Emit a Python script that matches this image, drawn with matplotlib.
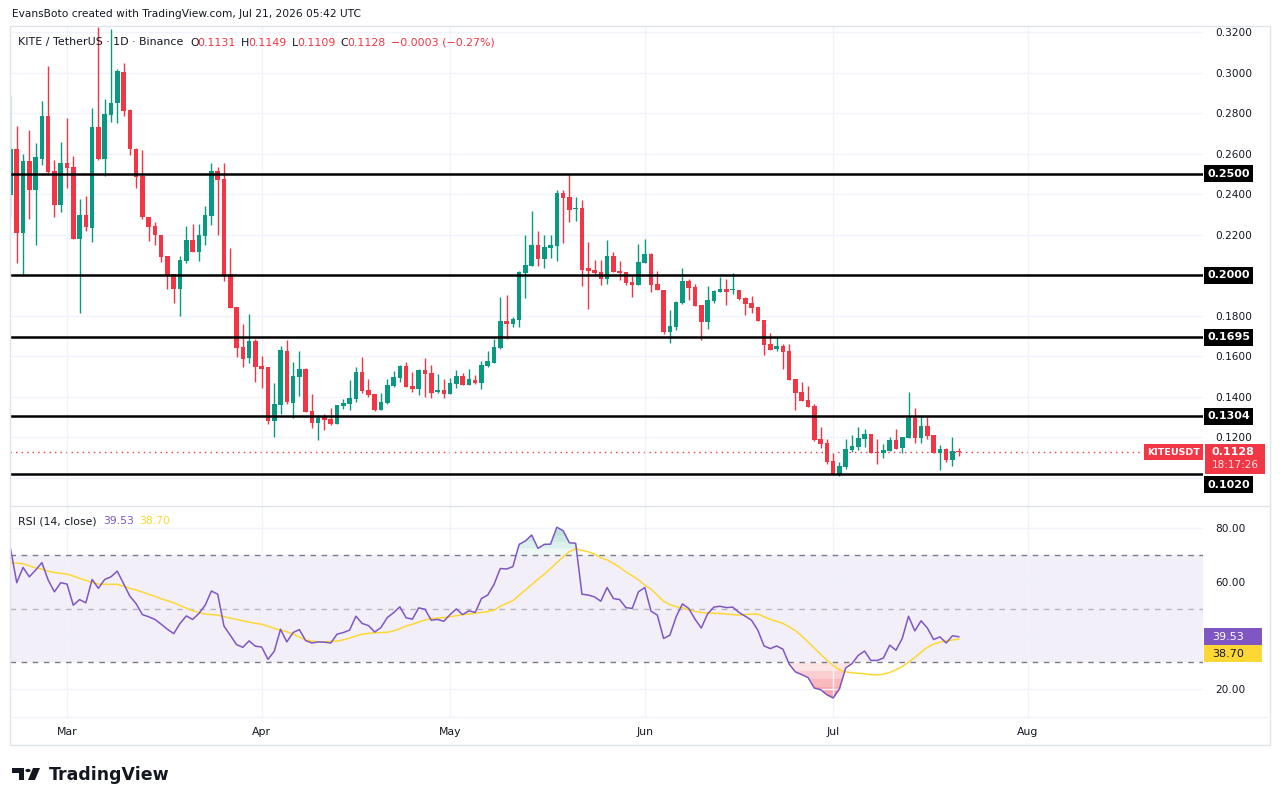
import numpy as np
import matplotlib
matplotlib.use("Agg")
import matplotlib.pyplot as plt
import matplotlib.dates as mdates
from matplotlib.patches import Rectangle, Polygon, Circle
from matplotlib.lines import Line2D

# daily candles, Feb 20 .. Jul 21 2026
dates = np.arange("2026-02-20", "2026-07-22", dtype="datetime64[D]")

opens = [
    # Feb 20-28
    0.2396, 0.2623, 0.2207, 0.2564, 0.2421, 0.2576, 0.2786, 0.2515, 0.2349,
    # Mar
    0.2554, 0.2535, 0.2181, 0.2298, 0.2235, 0.2732, 0.2576, 0.2791, 0.2849, 0.3003,
    0.2816, 0.2625, 0.2490, 0.2288, 0.2243, 0.2199, 0.2095, 0.2006, 0.1934, 0.2072,
    0.2174, 0.2115, 0.2196, 0.2294, 0.2515, 0.2475, 0.2006, 0.1843, 0.1646, 0.1593,
    0.1676,
    # Apr
    0.1552, 0.1547, 0.1282, 0.1360, 0.1626, 0.1371, 0.1500, 0.1538, 0.1330, 0.1273,
    0.1302, 0.1292, 0.1268, 0.1357, 0.1366, 0.1391, 0.1523, 0.1434, 0.1414, 0.1337,
    0.1371, 0.1455, 0.1495, 0.1552, 0.1454, 0.1440, 0.1533, 0.1518, 0.1426, 0.1434,
    # May
    0.1416, 0.1465, 0.1503, 0.1460, 0.1483, 0.1470, 0.1554, 0.1569, 0.1643, 0.1774,
    0.1761, 0.1781, 0.2013, 0.2048, 0.2150, 0.2082, 0.2136, 0.2146, 0.2406, 0.2387,
    0.2329, 0.2332, 0.2036, 0.2026, 0.2016, 0.1983, 0.2095, 0.2021, 0.2016, 0.1967,
    0.1954,
    # Jun
    0.2062, 0.2105, 0.1957, 0.1927, 0.1722, 0.1746, 0.1863, 0.1972, 0.1942, 0.1853,
    0.1771, 0.1875, 0.1919, 0.1932, 0.1926, 0.1927, 0.1890, 0.1863, 0.1844, 0.1779,
    0.1663, 0.1636, 0.1651, 0.1626, 0.1488, 0.1424, 0.1384, 0.1355, 0.1192, 0.1172,
    # Jul
    0.1083, 0.1017, 0.1054, 0.1138, 0.1153, 0.1192, 0.1217, 0.1128, 0.1123, 0.1134,
    0.1187, 0.1148, 0.1197, 0.1296, 0.1197, 0.1256, 0.1212, 0.1123, 0.1143, 0.1088,
    0.1131,
]
highs = [
    0.2890, 0.2737, 0.2599, 0.2717, 0.2653, 0.2860, 0.3033, 0.2569, 0.2658,
    0.2776, 0.2589, 0.2377, 0.2391, 0.2826, 0.3226, 0.2870, 0.3216, 0.3018, 0.3048,
    0.2820, 0.2627, 0.2619, 0.2290, 0.2265, 0.2200, 0.2097, 0.2008, 0.2095, 0.2243,
    0.2253, 0.2253, 0.2342, 0.2556, 0.2535, 0.2556, 0.2135, 0.1845, 0.1760, 0.1809,
    0.1685,
    0.1603, 0.1549, 0.1468, 0.1651, 0.1681, 0.1572, 0.1626, 0.1543, 0.1414, 0.1310,
    0.1315, 0.1345, 0.1362, 0.1389, 0.1483, 0.1547, 0.1597, 0.1488, 0.1416, 0.1419,
    0.1488, 0.1528, 0.1557, 0.1572, 0.1523, 0.1538, 0.1592, 0.1557, 0.1513, 0.1488,
    0.1493, 0.1533, 0.1518, 0.1538, 0.1508, 0.1577, 0.1626, 0.1685, 0.1894, 0.1903,
    0.1796, 0.2020, 0.2199, 0.2317, 0.2219, 0.2199, 0.2199, 0.2421, 0.2421, 0.2500,
    0.2387, 0.2372, 0.2166, 0.2076, 0.2076, 0.2174, 0.2115, 0.2071, 0.2018, 0.1997,
    0.2155,
    0.2179, 0.2110, 0.2021, 0.1929, 0.1829, 0.1873, 0.2036, 0.1982, 0.1957, 0.1855,
    0.1947, 0.1927, 0.1992, 0.1982, 0.2011, 0.1929, 0.1894, 0.1900, 0.1846, 0.1781,
    0.1717, 0.1697, 0.1661, 0.1661, 0.1490, 0.1473, 0.1454, 0.1365, 0.1251, 0.1192,
    0.1123, 0.1078, 0.1192, 0.1212, 0.1251, 0.1241, 0.1219, 0.1192, 0.1167, 0.1202,
    0.1241, 0.1204, 0.1424, 0.1345, 0.1301, 0.1301, 0.1214, 0.1162, 0.1148, 0.1202,
    0.1149,
]
lows = [
    0.2289, 0.2062, 0.2005, 0.2278, 0.2151, 0.2544, 0.2507, 0.2289, 0.2312,
    0.2433, 0.2178, 0.1816, 0.2220, 0.2166, 0.2569, 0.2492, 0.2757, 0.2753, 0.2786,
    0.2594, 0.2433, 0.2280, 0.2171, 0.2151, 0.2067, 0.1934, 0.1865, 0.1801, 0.2062,
    0.2113, 0.2072, 0.2150, 0.2250, 0.2201, 0.1974, 0.1838, 0.1598, 0.1549, 0.1569,
    0.1475,
    0.1445, 0.1268, 0.1203, 0.1317, 0.1365, 0.1297, 0.1406, 0.1325, 0.1248, 0.1189,
    0.1238, 0.1263, 0.1266, 0.1342, 0.1337, 0.1376, 0.1421, 0.1401, 0.1332, 0.1335,
    0.1366, 0.1450, 0.1475, 0.1448, 0.1426, 0.1411, 0.1401, 0.1396, 0.1421, 0.1396,
    0.1414, 0.1445, 0.1458, 0.1458, 0.1465, 0.1440, 0.1549, 0.1567, 0.1635, 0.1686,
    0.1746, 0.1746, 0.1890, 0.2046, 0.2048, 0.2038, 0.2087, 0.2072, 0.2161, 0.2265,
    0.2270, 0.1949, 0.1835, 0.1998, 0.1954, 0.1959, 0.2016, 0.1978, 0.1954, 0.1894,
    0.1952,
    0.2060, 0.1919, 0.1927, 0.1712, 0.1668, 0.1732, 0.1860, 0.1880, 0.1848, 0.1682,
    0.1737, 0.1865, 0.1917, 0.1855, 0.1909, 0.1880, 0.1806, 0.1816, 0.1772, 0.1608,
    0.1631, 0.1628, 0.1539, 0.1483, 0.1337, 0.1379, 0.1350, 0.1184, 0.1149, 0.1070,
    0.1012, 0.1010, 0.1044, 0.1128, 0.1138, 0.1153, 0.1121, 0.1069, 0.1098, 0.1132,
    0.1141, 0.1123, 0.1195, 0.1172, 0.1172, 0.1192, 0.1121, 0.1039, 0.1078, 0.1059,
    0.1109,
]
closes = [
    0.2623, 0.2207, 0.2564, 0.2421, 0.2584, 0.2786, 0.2512, 0.2349, 0.2554,
    0.2531, 0.2181, 0.2298, 0.2240, 0.2732, 0.2576, 0.2796, 0.2850, 0.3008, 0.2813,
    0.2625, 0.2487, 0.2288, 0.2238, 0.2199, 0.2092, 0.2001, 0.1934, 0.2076, 0.2174,
    0.2115, 0.2199, 0.2298, 0.2515, 0.2470, 0.2001, 0.1840, 0.1643, 0.1589, 0.1676,
    0.1549,
    0.1539, 0.1282, 0.1365, 0.1631, 0.1375, 0.1503, 0.1538, 0.1327, 0.1273, 0.1297,
    0.1287, 0.1268, 0.1360, 0.1370, 0.1394, 0.1523, 0.1431, 0.1411, 0.1337, 0.1375,
    0.1459, 0.1498, 0.1552, 0.1450, 0.1440, 0.1533, 0.1514, 0.1421, 0.1434, 0.1416,
    0.1468, 0.1503, 0.1460, 0.1488, 0.1470, 0.1557, 0.1577, 0.1646, 0.1774, 0.1761,
    0.1784, 0.2016, 0.2051, 0.2150, 0.2082, 0.2140, 0.2150, 0.2406, 0.2383, 0.2322,
    0.2332, 0.2028, 0.2023, 0.2013, 0.1983, 0.2095, 0.2018, 0.2013, 0.1964, 0.1954,
    0.2066,
    0.2105, 0.1954, 0.1929, 0.1722, 0.1750, 0.1868, 0.1972, 0.1939, 0.1850, 0.1771,
    0.1878, 0.1923, 0.1932, 0.1919, 0.1929, 0.1885, 0.1860, 0.1840, 0.1774, 0.1658,
    0.1633, 0.1653, 0.1623, 0.1485, 0.1421, 0.1381, 0.1352, 0.1189, 0.1169, 0.1080,
    0.1021, 0.1059, 0.1143, 0.1157, 0.1197, 0.1217, 0.1123, 0.1123, 0.1138, 0.1187,
    0.1143, 0.1202, 0.1296, 0.1197, 0.1256, 0.1207, 0.1123, 0.1143, 0.1088, 0.1131,
    0.1128,
]

rsi = [
    72.5, 59.7, 65.4, 61.9, 64.4, 67.2, 60.7, 56.3, 59.7,
    59.2, 51.3, 53.4, 52.2, 60.9, 57.6, 60.9, 61.9, 64.0, 59.4, 54.7, 51.9, 47.8,
    47.0, 46.0, 44.2, 42.3, 40.7, 44.5, 47.3, 46.0, 48.2, 51.3, 56.6, 55.4, 43.5,
    40.1, 36.6, 35.6, 38.0, 36.0,
    35.7, 31.1, 34.1, 42.3, 37.6, 41.1, 42.2, 38.1, 37.2, 37.6, 37.5, 37.2, 40.5,
    41.1, 42.0, 47.2, 44.5, 43.7, 41.3, 43.0, 46.7, 48.5, 50.7, 46.6, 46.1, 50.3,
    49.8, 45.7, 46.0, 45.3,
    47.8, 49.9, 47.8, 49.2, 48.6, 53.8, 55.1, 59.1, 65.0, 64.8, 65.7, 74.0, 75.3,
    77.5, 72.5, 74.0, 74.1, 80.4, 79.1, 74.6, 74.4, 55.4, 55.1, 54.4, 52.8, 57.9,
    53.8, 53.4, 50.4, 50.1, 56.3,
    57.9, 49.1, 47.6, 38.9, 40.1, 47.0, 51.8, 50.1, 46.1, 42.8, 48.0, 50.6, 50.9,
    50.4, 50.6, 48.6, 47.2, 45.7, 42.0, 36.1, 35.1, 36.1, 34.9, 29.3, 26.4, 25.4,
    24.3, 20.4, 19.8, 17.9,
    16.7, 20.1, 27.9, 29.5, 32.6, 34.2, 30.7, 30.7, 31.6, 36.4, 34.5, 38.9, 47.2,
    41.7, 45.5, 42.8, 38.5, 39.5, 37.2, 39.9, 39.53,
]
rsi_ma = [
    67.2, 67.0, 66.8, 66.0, 65.2, 64.8, 64.0, 63.5, 63.2,
    62.9, 62.2, 61.3, 60.6, 59.8, 59.2, 59.1, 59.1, 59.1, 58.4, 57.6, 57.0, 56.2,
    55.4, 54.6, 53.7, 53.0, 52.2, 51.2, 50.2, 49.3, 48.6, 48.0, 47.8, 47.6, 47.0,
    46.5, 46.0, 45.5, 45.0, 44.5,
    44.2, 43.5, 42.6, 42.0, 41.4, 40.5, 39.4, 38.3, 37.9, 37.6, 37.6, 37.8, 37.9,
    38.4, 39.0, 39.8, 40.5, 40.8, 41.0, 41.1, 41.2, 41.7, 42.5, 43.5, 44.2, 45.0,
    45.8, 46.3, 46.5, 46.7,
    47.0, 47.4, 47.8, 48.0, 48.3, 48.6, 48.9, 49.5, 50.9, 52.0, 53.0, 55.0, 57.0,
    59.0, 61.0, 62.8, 65.0, 67.2, 69.3, 71.3, 72.3, 71.8, 71.2, 70.4, 69.0, 68.2,
    66.9, 65.5, 63.7, 62.3, 60.8,
    58.8, 57.3, 55.0, 52.8, 51.5, 50.8, 50.3, 49.6, 49.0, 48.6, 48.4, 48.3, 48.2,
    48.0, 47.8, 47.6, 47.8, 48.0, 48.0, 47.0, 46.0, 45.3, 44.5, 43.2, 41.8, 39.8,
    37.6, 35.3, 33.0, 30.8,
    28.8, 27.2, 26.4, 26.1, 25.9, 25.7, 25.4, 25.3, 25.6, 26.2, 27.2, 28.4, 30.0,
    31.8, 33.8, 35.6, 36.8, 37.5, 38.0, 38.3, 38.70,
]

levels = [0.2500, 0.2000, 0.1695, 0.1304, 0.1020]
level_labels = ["0.2500", "0.2000", "0.1695", "0.1304", "0.1020"]
price_grid = [0.10, 0.12, 0.14, 0.16, 0.18, 0.20, 0.22, 0.24, 0.26, 0.28, 0.30, 0.32]
price_tick_labels = ["", "0.1200", "0.1400", "0.1600", "0.1800", "", "0.2200",
                     "0.2400", "0.2600", "0.2800", "0.3000", "0.3200"]
rsi_grid = [20, 40, 60, 80]
rsi_tick_labels = ["20.00", "", "60.00", "80.00"]
month_starts = np.array(["2026-03-01", "2026-04-01", "2026-05-01", "2026-06-01",
                         "2026-07-01", "2026-08-01"], dtype="datetime64[D]")
month_labels = ["Mar", "Apr", "May", "Jun", "Jul", "Aug"]
last_price = 0.1128

UP, DOWN = "#089981", "#f23645"
TXT = "#131722"
GRID = "#f0f3fa"
PURPLE, YELLOW = "#7e57c2", "#fdd835"

W, H = 1280, 805
fig = plt.figure(figsize=(W / 100, H / 100), dpi=100)
fig.patch.set_facecolor("white")


def fbox(x0, y0, x1, y1):
    return [x0 / W, 1 - y1 / H, (x1 - x0) / W, (y1 - y0) / H]


def px_rect(x0, y0, x1, y1, **kw):
    fig.add_artist(Rectangle((x0 / W, 1 - y1 / H), (x1 - x0) / W, (y1 - y0) / H,
                             transform=fig.transFigure, **kw))


def px_text(x, y, s, **kw):
    kw.setdefault("va", "center")
    fig.text(x / W, 1 - y / H, s, **kw)


def px_hline(x0, x1, y, color, lw=1):
    fig.add_artist(Line2D([x0 / W, x1 / W], [1 - y / H, 1 - y / H],
                          transform=fig.transFigure, color=color, lw=lw))


ax = fig.add_axes(fbox(10, 26, 1203, 506))
ax2 = fig.add_axes(fbox(10, 507, 1203, 717), sharex=ax)

x = mdates.date2num(dates)
o, h, l, c = map(np.array, (opens, highs, lows, closes))
colors = np.where(c >= o, UP, DOWN)

mar1 = mdates.date2num(np.datetime64("2026-03-01"))
px_per_day = 6.28
ax.set_xlim(mar1 - 57 / px_per_day, mar1 + (1203 - 67) / px_per_day)
ax.set_ylim(0.25 - (506 - 174) / 2026, 0.25 + (174 - 26) / 2026)
ax2.set_ylim(80 - (717 - 528.3) / 2.68, 80 + (528.3 - 507) / 2.68)

# price panel
ax.axhline(last_price, color=DOWN, lw=1, ls=(0, (1, 3)), zorder=1)
ax.vlines(x, l, h, colors=colors, lw=1, zorder=2)
ax.bar(x, np.maximum(np.abs(c - o), 0.0005), bottom=np.minimum(o, c),
       width=0.72, color=colors, lw=0, zorder=2)
for v in levels:
    ax.axhline(v, color="black", lw=1.8, zorder=3)

ax.set_yticks(price_grid)
ax.set_yticklabels(price_tick_labels)
ax.yaxis.tick_right()
ax.set_xticks(mdates.date2num(month_starts))
ax.grid(True, color=GRID, lw=1)
ax.tick_params(axis="both", length=0, labelsize=7.6, colors=TXT, pad=9)
ax.tick_params(axis="x", labelbottom=False)

# RSI panel
rsi = np.array(rsi)
ax2.axhspan(30, 70, color=PURPLE, alpha=0.09, lw=0)
for lvl in (70, 72.5, 75, 77.5):
    ax2.fill_between(x, rsi, lvl, where=rsi > lvl, interpolate=True,
                     color=UP, alpha=0.07, lw=0)
for lvl in (30, 27, 24, 21, 18):
    ax2.fill_between(x, rsi, lvl, where=rsi < lvl, interpolate=True,
                     color=DOWN, alpha=0.13, lw=0)
for v, a in ((70, 1.0), (50, 0.5), (30, 1.0)):
    ax2.axhline(v, color="#787b86", lw=1, ls=(0, (4, 4)), alpha=a)
ax2.plot(x, rsi_ma, color=YELLOW, lw=1.1)
ax2.plot(x, rsi, color=PURPLE, lw=1.1)

ax2.set_yticks(rsi_grid)
ax2.set_yticklabels(rsi_tick_labels)
ax2.yaxis.tick_right()
ax2.set_xticks(mdates.date2num(month_starts))
ax2.set_xticklabels(month_labels)
ax2.grid(True, color=GRID, lw=1)
ax2.tick_params(axis="y", length=0, labelsize=7.6, colors=TXT, pad=9)
ax2.tick_params(axis="x", length=0, labelsize=7.8, colors=TXT, pad=7)

for a in (ax, ax2):
    for s in a.spines.values():
        s.set_visible(False)


def y_px(axis, v):
    return H - axis.transData.transform((0, v))[1]


# level boxes on the price scale
for v, txt in zip(levels, level_labels):
    yc = y_px(ax, v)
    if txt == "0.1020":
        yc += 11  # pushed down below the last-price box
    px_rect(1204, yc - 8.5, 1253, yc + 8.5, fc="black", ec="none")
    px_text(1228.5, yc, txt, ha="center", color="white", fontsize=8, fontweight="bold")

yl = y_px(ax, last_price)
px_rect(1144, yl - 7.6, 1203, yl + 8.4, fc=DOWN, ec="none")
px_text(1173.5, yl + 0.4, "KITEUSDT", ha="center", color="white", fontsize=6.8,
        fontweight="bold")
px_rect(1205, yl - 7.6, 1265, yl + 22, fc=DOWN, ec="none")
px_text(1212, yl, "0.1128", ha="left", color="white", fontsize=8, fontweight="bold")
px_text(1212, yl + 13, "18:17:26", ha="left", color="#fde5e7", fontsize=7.5)

yr = y_px(ax2, rsi[-1])
px_rect(1204, yr - 8.5, 1262, yr + 8.5, fc=PURPLE, ec="none")
px_text(1212, yr, "39.53", ha="left", color="white", fontsize=8)
px_rect(1204, yr + 8.5, 1262, yr + 25.5, fc=YELLOW, ec="none")
px_text(1212, yr + 17, "38.70", ha="left", color=TXT, fontsize=8)

# frame and separators
px_rect(10, 26, 1270, 745, fc="none", ec="#e0e3eb", lw=1)
px_hline(10, 1270, 506.5, "#e0e3eb")
px_hline(10, 1270, 717, GRID)

# header texts
px_text(12, 14, "EvansBoto created with TradingView.com, Jul 21, 2026 05:42 UTC",
        color=TXT, fontsize=7.7)
legend_parts = [
    ("KITE / TetherUS · 1D · Binance", 18, TXT), ("O", 190, TXT), ("0.1131", 197.5, DOWN),
    ("H", 240.5, TXT), ("0.1149", 248, DOWN), ("L", 291.5, TXT), ("0.1109", 297.5, DOWN),
    ("C", 340, TXT), ("0.1128", 347.5, DOWN), ("\u22120.0003 (\u22120.27%)", 391, DOWN),
]
for s, xp, col in legend_parts:
    px_text(xp, 42.5, s, color=col, fontsize=7.9)

px_text(18, 521, "RSI (14, close)", color=TXT, fontsize=7.8)
px_text(103, 521, "39.53", color=PURPLE, fontsize=7.8)
px_text(139, 521, "38.70", color=YELLOW, fontsize=7.8)

# TradingView logo
def fp(xp, yp):
    return (xp / W, 1 - yp / H)


fig.add_artist(Polygon([fp(12, 768), fp(24, 768), fp(24, 780), fp(18.5, 780),
                        fp(18.5, 773), fp(12, 773)], closed=True,
                       transform=fig.transFigure, fc="#131722", ec="none"))
fig.add_artist(Circle(fp(28, 770.5), 2.6 / W, transform=fig.transFigure,
                      fc="#131722", ec="none"))
fig.add_artist(Polygon([fp(33, 768), fp(40, 768), fp(35, 780), fp(28, 780)],
                       closed=True, transform=fig.transFigure, fc="#131722", ec="none"))
px_text(49, 775, "TradingView", color="#131722", fontsize=12.5, fontweight="bold")

fig.savefig("out.png", dpi=100)
